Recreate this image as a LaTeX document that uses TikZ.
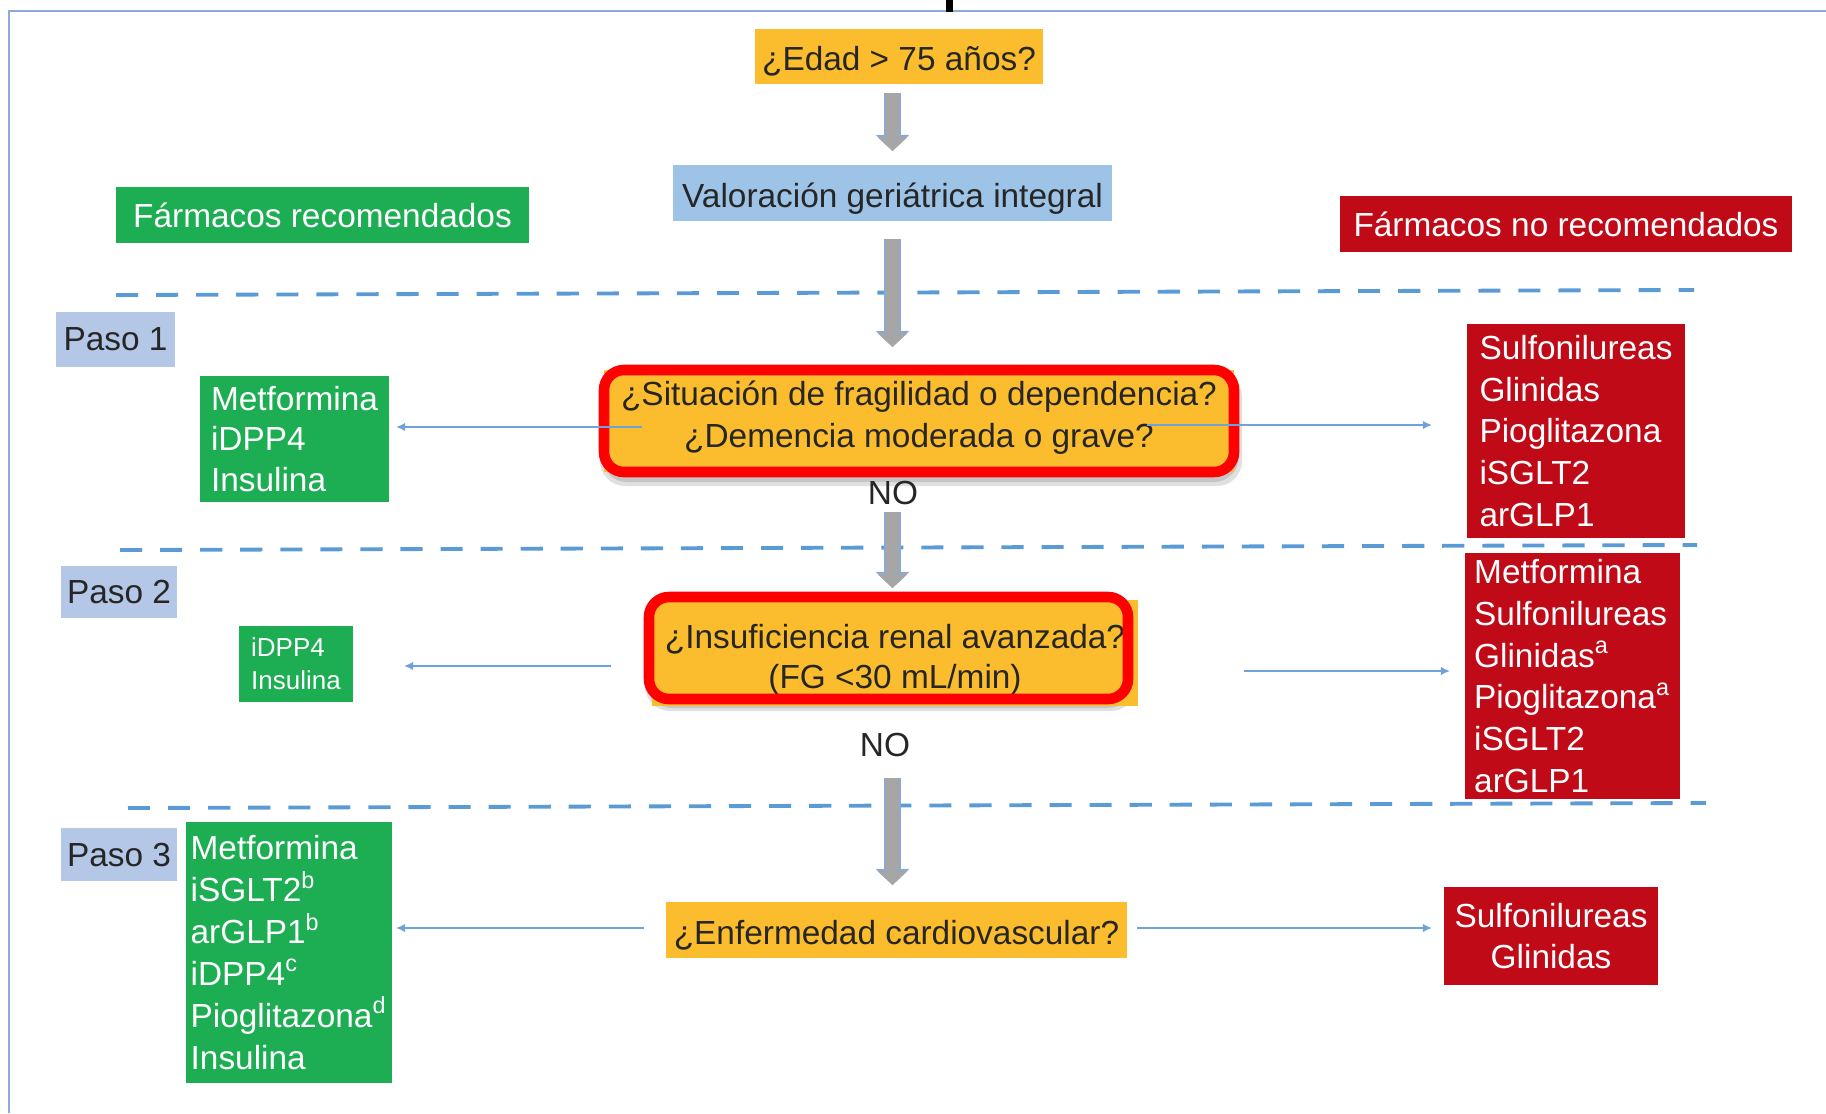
\documentclass[tikz,border=0pt]{standalone}
\usepackage{fontspec}
\setmainfont{Liberation Sans}
\usetikzlibrary{arrows.meta,calc,backgrounds}
\definecolor{qorange}{HTML}{FBBD2D}
\definecolor{vblue}{HTML}{9DC3E6}
\definecolor{pblue}{HTML}{B4C7E7}
\definecolor{dgreen}{HTML}{1DAD53}
\definecolor{dred}{HTML}{C00A17}
\definecolor{lineblue}{HTML}{5B9BD5}
\definecolor{arrowblue}{HTML}{6FA3D8}
\definecolor{framered}{HTML}{FF0000}
\definecolor{grayfill}{HTML}{A6A6A6}
\definecolor{grayedge}{HTML}{8EA9CF}
\definecolor{txt}{HTML}{262626}
\definecolor{pageframe}{HTML}{8EAADB}
\newcommand{\upstrut}[1]{\rule{0pt}{#1}}
\newcommand{\dnstrut}[1]{\rule[-#1]{0pt}{0pt}}
\begin{document}
\begin{tikzpicture}[x=0.1mm,y=-0.1mm,
  every node/.style={font=\fontsize{9.5pt}{11.9pt}\selectfont, inner sep=0pt, outer sep=0pt},
  box/.style={rectangle, align=center},
  qbox/.style={box, fill=qorange, text=txt},
  vbox/.style={box, fill=vblue, text=txt},
  pasobox/.style={box, fill=pblue, text=txt},
  gbox/.style={box, fill=dgreen, text=white, align=left},
  rbox/.style={box, fill=dred, text=white, align=left},
  dline/.style={draw=lineblue, line width=1.1pt, dash pattern=on 6.3pt off 5.1pt},
  thinarrow/.style={draw=arrowblue, line width=0.45pt, -{Latex[length=2.6pt,width=2.4pt]}},
  grayarrow/.style={draw=grayfill, line width=3.9pt, -{Triangle[width=8.4pt,length=3.9pt,line width=0pt]},
     preaction={draw=grayedge, line width=4.6pt, -{Triangle[width=9.6pt,length=4.6pt,line width=0pt]}}},
  redframe/.style={draw=framered, line width=3pt, rounded corners=2mm},
  shadowfill/.style={fill=black, opacity=0.12, rounded corners=2.5mm},
]
\useasboundingbox (0,0) rectangle (1826,1113);

% page frame fragments
\draw[draw=pageframe, line width=0.6pt] (1826,11) -- (9,11) -- (9,1113);
\fill[black] (946,0) rectangle (953,12);

% dashed separators
\coordinate (d1l) at (116,295); \coordinate (d1r) at (1694,290);
\coordinate (d2l) at (120,550); \coordinate (d2r) at (1697,545);
\coordinate (d3l) at (128,808); \coordinate (d3r) at (1706,803);
\draw[dline] (d1l) -- (d1r);
\draw[dline] (d2l) -- (d2r);
\draw[dline] (d3l) -- (d3r);

% top
\node[qbox, minimum width=28.8mm, minimum height=5.5mm] (edad) at (899,56) {\upstrut{10pt}¿Edad > 75 años?};
\node[vbox, minimum width=43.9mm, minimum height=5.6mm] (val) at (892.5,193) {\upstrut{10.5pt}Valoración geriátrica integral};
\node[gbox, align=center, minimum width=41.3mm, minimum height=5.6mm] (frec) at (322.5,215) {Fármacos recomendados};
\node[rbox, align=center, minimum width=45.2mm, minimum height=5.6mm] (fnorec) at (1566,224) {Fármacos no recomendados};

% paso labels
\node[pasobox, minimum width=11.9mm, minimum height=5.5mm] (paso1) at (115.5,339.5) {Paso 1};
\node[pasobox, minimum width=11.6mm, minimum height=5.2mm] (paso2) at (119,592) {Paso 2};
\node[pasobox, minimum width=11.6mm, minimum height=5.3mm] (paso3) at (119,854.5) {Paso 3};

% questions
\node[qbox, minimum width=63mm, minimum height=10.2mm] (q1) at (919,421) {¿Situación de fragilidad o dependencia?\\¿Demencia moderada o grave?\dnstrut{3.7pt}};
\node[text=txt] (no1) at (893,493) {NO};
\node[qbox, font=\fontsize{9.5pt}{11.2pt}\selectfont, minimum width=48.6mm, minimum height=10.6mm] (q2) at (895,653) {\upstrut{10.8pt}¿Insuficiencia renal avanzada?\\(FG <30 mL/min)};
\node[text=txt] (no2) at (885,745) {NO};
\node[qbox, minimum width=46.1mm, minimum height=5.6mm] (q3) at (896.5,930) {\upstrut{9.8pt}¿Enfermedad cardiovascular?};

% shadows and red frames
\begin{pgfonlayer}{background}
\fill[shadowfill] ($(q1.north west)+(-4,2)$) rectangle ($(q1.south east)+(8,14)$);
\fill[shadowfill] ($(q1.north west)+(-2,4)$) rectangle ($(q1.south east)+(5,10)$);
\fill[shadowfill] ($(q2.north west)+(-7,-1)$) rectangle ($(q2.south east)+(-2,5)$);
\fill[shadowfill] ($(q2.north west)+(-5,1)$) rectangle ($(q2.south east)+(-5,2)$);
\end{pgfonlayer}
\draw[redframe] (q1.north west) rectangle (q1.south east);
\draw[redframe] ($(q2.north west)+(-3,-3)$) rectangle ($(q2.south east)+(-10,-7)$);

% green boxes
\node[gbox, minimum width=18.9mm, minimum height=12.6mm, font=\fontsize{9.5pt}{11.6pt}\selectfont] (g1) at (294.5,439) {Metformina\\iDPP4\\Insulina};
\node[gbox, font=\fontsize{7.4pt}{9.3pt}\selectfont, minimum width=11.4mm, minimum height=7.6mm] (g2) at (296,664) {iDPP4\\Insulina};
\node[gbox, minimum width=20.6mm, minimum height=26.1mm] (g3) at (289,952.5) {Metformina\\iSGLT2\textsuperscript{b}\\arGLP1\textsuperscript{b}\\iDPP4\textsuperscript{c}\\Pioglitazona\textsuperscript{d}\\Insulina};

% red boxes
\node[rbox, minimum width=21.8mm, minimum height=21.4mm] (r1) at (1576,431) {Sulfonilureas\\Glinidas\\Pioglitazona\\iSGLT2\\arGLP1};
\node[rbox, minimum width=21.5mm, minimum height=24.6mm] (r2) at (1572.5,676) {Metformina\\Sulfonilureas\\Glinidas\textsuperscript{a}\\Pioglitazona\textsuperscript{a}\\iSGLT2\\arGLP1};
\node[rbox, align=center, minimum width=21.4mm, minimum height=9.8mm] (r3) at (1551,936) {Sulfonilureas\\Glinidas};

% thin side arrows
\coordinate (l1s) at ($(q1.west)+(38,6)$);
\coordinate (r1s) at ($(q1.east)+(-87,4)$);
\coordinate (l2s) at ($(q2.west)+(-41,13)$);
\coordinate (r2s) at ($(q2.east)+(106,18)$);
\coordinate (l3s) at ($(q3.west)+(-22,-2)$);
\coordinate (r3s) at ($(q3.east)+(10,-2)$);
\draw[thinarrow, shorten >=0.7mm] (l1s) -- (l1s -| g1.east);
\draw[thinarrow, shorten >=3.5mm] (r1s) -- (r1s -| r1.west);
\draw[thinarrow, shorten >=5.1mm] (l2s) -- (l2s -| g2.east);
\draw[thinarrow, shorten >=1.5mm] (r2s) -- (r2s -| r2.west);
\draw[thinarrow, shorten >=0.4mm] (l3s) -- (l3s -| g3.east);
\draw[thinarrow, shorten >=1.2mm] (r3s) -- (r3s -| r3.west);

% gray block arrows
\draw[grayarrow, shorten <=0.9mm, shorten >=1.4mm] (edad.south -| val.north) -- (val.north);
\draw[grayarrow, shorten <=1.8mm, shorten >=2.3mm] (val.south) -- (q1.north -| val.south);
\draw[grayarrow, shorten <=4mm, shorten >=1.2mm] (q1.south -| val.south) -- (q2.north -| val.south);
\draw[grayarrow, shorten <=7.2mm, shorten >=1.7mm] (q2.south -| val.south) -- (q3.north -| val.south);
\end{tikzpicture}
\end{document}
